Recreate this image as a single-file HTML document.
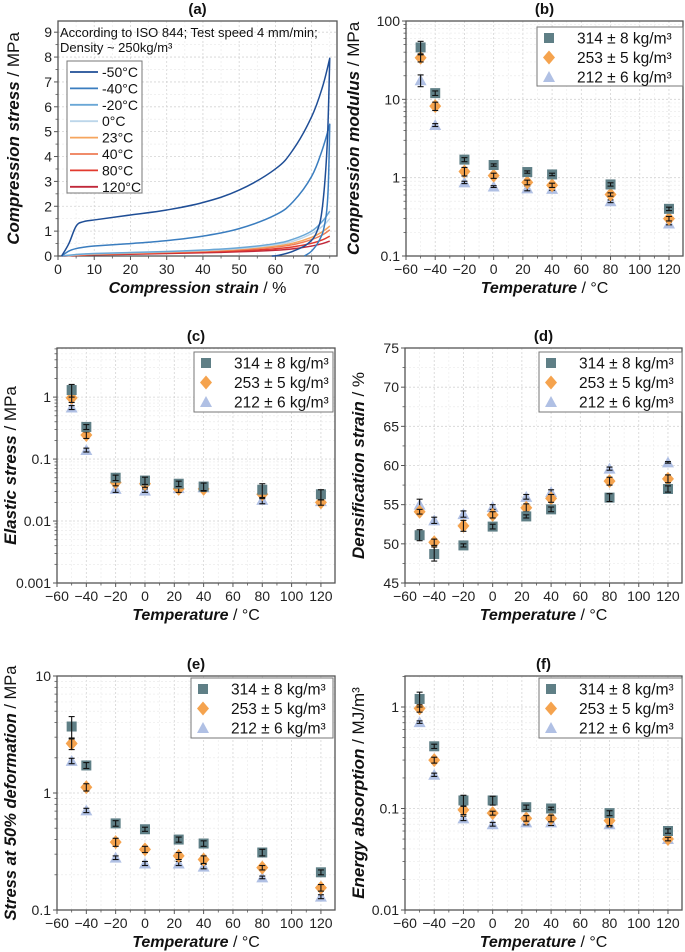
<!DOCTYPE html>
<html><head><meta charset="utf-8">
<style>
html,body{margin:0;padding:0;background:#fff;}
svg{display:block;font-family:"Liberation Sans",Arial,sans-serif;}
</style></head>
<body>
<svg id="fig" width="685" height="952" viewBox="0 0 685 952" xmlns="http://www.w3.org/2000/svg"></svg>
<script>
// ---------- DATA ----------
const temps = [-50, -40, -20, 0, 23, 40, 80, 120];
const seriesLabels = ["314 ± 8 kg/m³", "253 ± 5 kg/m³", "212 ± 6 kg/m³"];

const modulus314 = [46, 12, 1.7, 1.45, 1.18, 1.1, 0.82, 0.4];
const modulus253 = [34, 8.2, 1.2, 1.06, 0.87, 0.8, 0.61, 0.3];
const modulus212 = [17.5, 4.7, 0.87, 0.77, 0.73, 0.72, 0.5, 0.26];
const modulusErr314 = [9, 0.8, 0.1, 0.05, 0.04, 0.04, 0.04, 0.02];
const modulusErr253 = [4, 1.0, 0.15, 0.08, 0.06, 0.05, 0.03, 0.02];
const modulusErr212 = [3, 0.2, 0.03, 0.02, 0.05, 0.03, 0.02, 0.01];

const elastic314 = [1.3, 0.33, 0.05, 0.045, 0.04, 0.036, 0.032, 0.027];
const elastic253 = [0.97, 0.245, 0.042, 0.04, 0.033, 0.033, 0.027, 0.02];
const elastic212 = [0.68, 0.14, 0.033, 0.031, 0.034, 0.035, 0.022, 0.021];
const elasticErr314 = [0.3, 0.03, 0.005, 0.006, 0.004, 0.005, 0.008, 0.005];
const elasticErr253 = [0.15, 0.03, 0.005, 0.005, 0.004, 0.003, 0.004, 0.002];
const elasticErr212 = [0.05, 0.01, 0.004, 0.002, 0.003, 0.003, 0.003, 0.002];

const densif314 = [51.1, 48.7, 49.8, 52.2, 53.5, 54.4, 55.9, 57.0];
const densif253 = [54.1, 50.2, 52.3, 53.7, 54.6, 55.8, 58.0, 58.3];
const densif212 = [55.0, 53.0, 53.8, 54.7, 56.0, 56.6, 59.6, 60.4];
const densifErr314 = [0.7, 0.9, 0.2, 0.3, 0.2, 0.3, 0.5, 0.4];
const densifErr253 = [0.3, 0.4, 0.7, 0.4, 0.5, 0.5, 0.5, 0.5];
const densifErr212 = [0.7, 0.4, 0.4, 0.3, 0.3, 0.3, 0.2, 0.1];

const stress50_314 = [3.7, 1.72, 0.55, 0.49, 0.4, 0.37, 0.31, 0.21];
const stress50_253 = [2.65, 1.12, 0.38, 0.33, 0.29, 0.27, 0.23, 0.155];
const stress50_212 = [1.88, 0.71, 0.28, 0.25, 0.25, 0.235, 0.19, 0.13];
const stress50Err314 = [0.8, 0.1, 0.03, 0.02, 0.02, 0.02, 0.02, 0.01];
const stress50Err253 = [0.3, 0.08, 0.03, 0.02, 0.02, 0.02, 0.01, 0.01];
const stress50Err212 = [0.1, 0.03, 0.01, 0.01, 0.01, 0.01, 0.005, 0.005];

const energy314 = [1.2, 0.41, 0.12, 0.12, 0.103, 0.1, 0.09, 0.06];
const energy253 = [0.97, 0.3, 0.097, 0.09, 0.08, 0.08, 0.076, 0.05];
const energy212 = [0.71, 0.215, 0.08, 0.07, 0.073, 0.073, 0.07, 0.05];
const energyErr314 = [0.2, 0.02, 0.015, 0.012, 0.005, 0.003, 0.005, 0.003];
const energyErr253 = [0.08, 0.02, 0.01, 0.004, 0.005, 0.006, 0.008, 0.002];
const energyErr212 = [0.02, 0.008, 0.004, 0.003, 0.004, 0.005, 0.004, 0.002];

// Panel (a) stress-strain curves
const curveLabels = ["-50°C", "-40°C", "-20°C", "0°C", "23°C", "40°C", "80°C", "120°C"];
const curveColors = ["#1f4e96", "#3a7dbf", "#6aa7d6", "#bcd6ea", "#f6a55e", "#ee7b55", "#e23a2e", "#c0283a"];
const strainLoad = [1, 3, 5, 7, 10, 20, 30, 40, 50, 60, 65, 70, 73, 75];
const stressM50 = [0, 0.5, 1.2, 1.38, 1.45, 1.65, 1.85, 2.15, 2.65, 3.5, 4.3, 5.6, 6.8, 7.95];
const stressM40 = [0, 0.2, 0.3, 0.35, 0.4, 0.5, 0.62, 0.8, 1.1, 1.65, 2.2, 3.2, 4.3, 5.3];
const stressM20 = [0, 0.03, 0.06, 0.08, 0.1, 0.14, 0.18, 0.24, 0.33, 0.5, 0.68, 1.0, 1.4, 1.8];
const stress0 = [0, 0.02, 0.05, 0.07, 0.09, 0.13, 0.17, 0.22, 0.3, 0.45, 0.6, 0.9, 1.2, 1.5];
const stress23 = [0, 0.02, 0.04, 0.06, 0.08, 0.12, 0.16, 0.21, 0.28, 0.4, 0.52, 0.75, 0.98, 1.2];
const stress40 = [0, 0.02, 0.04, 0.05, 0.07, 0.11, 0.15, 0.19, 0.25, 0.36, 0.46, 0.66, 0.85, 1.05];
const stress80 = [0, 0.01, 0.03, 0.04, 0.06, 0.09, 0.12, 0.16, 0.21, 0.29, 0.37, 0.51, 0.65, 0.8];
const stress120 = [0, 0.01, 0.02, 0.03, 0.05, 0.07, 0.1, 0.13, 0.17, 0.23, 0.29, 0.4, 0.5, 0.6];
const strainUnloadM50 = [75, 74.3, 73, 71.5, 69, 65, 61, 59];
const stressUnloadM50 = [7.95, 4.5, 2.0, 1.0, 0.5, 0.2, 0.03, 0];
const strainUnloadM40 = [75, 74.5, 73.5, 72, 70, 68];
const stressUnloadM40 = [5.3, 2.5, 1.2, 0.6, 0.2, 0];

// ---------- HELPERS ----------
const svg = document.getElementById('fig');
const NS = 'http://www.w3.org/2000/svg';
function mk(tag, attrs, parent) {
  const e = document.createElementNS(NS, tag);
  for (const k in attrs) e.setAttribute(k, attrs[k]);
  (parent || svg).appendChild(e);
  return e;
}
function txt(x, y, s, attrs, parent) {
  const t = mk('text', Object.assign({x: x, y: y, 'font-size': 13, fill: '#222'}, attrs), parent);
  t.textContent = s;
  return t;
}
function fmtNum(v) { return v < 0 ? '−' + Math.abs(v) : String(v); }
function smoothPath(p) {
  let d = 'M' + p[0][0] + ',' + p[0][1];
  for (let i = 0; i < p.length - 1; i++) {
    const p0 = p[Math.max(i - 1, 0)], p1 = p[i], p2 = p[i + 1], p3 = p[Math.min(i + 2, p.length - 1)];
    const t = 0.18;
    const c1 = [p1[0] + (p2[0] - p0[0]) * t, p1[1] + (p2[1] - p0[1]) * t];
    const c2 = [p2[0] - (p3[0] - p1[0]) * t, p2[1] - (p3[1] - p1[1]) * t];
    d += ' C' + c1[0] + ',' + c1[1] + ' ' + c2[0] + ',' + c2[1] + ' ' + p2[0] + ',' + p2[1];
  }
  return d;
}

function makeAxes(cfg) {
  const g = mk('g', {});
  
  
  const xs = v => cfg.left + (v - cfg.xmin) / (cfg.xmax - cfg.xmin) * (cfg.right - cfg.left);
  let ys;
  if (cfg.log) {
    const a = Math.log10(cfg.ymin), b = Math.log10(cfg.ymax);
    ys = v => cfg.bottom - (Math.log10(v) - a) / (b - a) * (cfg.bottom - cfg.top);
  } else {
    ys = v => cfg.bottom - (v - cfg.ymin) / (cfg.ymax - cfg.ymin) * (cfg.bottom - cfg.top);
  }
  const grid = mk('g', {}, g);
  
  
  cfg.xMinor.forEach(v => {
    if (v > cfg.xmin && v < cfg.xmax)
      mk('line', {x1: xs(v), x2: xs(v), y1: cfg.top, y2: cfg.bottom, stroke: '#ececec', 'stroke-width': 0.7, 'stroke-dasharray': '2,2'}, grid);
  });
  cfg.xTicks.forEach(v => {
    if (v > cfg.xmin)
      mk('line', {x1: xs(v), x2: xs(v), y1: cfg.top, y2: cfg.bottom, stroke: '#d4d4d4', 'stroke-width': 0.8, 'stroke-dasharray': '2,2'}, grid);
  });
  cfg.yMinor.forEach(v => {
    mk('line', {x1: cfg.left, x2: cfg.right, y1: ys(v), y2: ys(v), stroke: '#ececec', 'stroke-width': 0.7, 'stroke-dasharray': '2,2'}, grid);
  });
  cfg.yTicks.forEach(v => {
    mk('line', {x1: cfg.left, x2: cfg.right, y1: ys(v), y2: ys(v), stroke: '#d4d4d4', 'stroke-width': 0.8, 'stroke-dasharray': '2,2'}, grid);
  });
  mk('rect', {x: cfg.left, y: cfg.top, width: cfg.right - cfg.left, height: cfg.bottom - cfg.top, fill: 'none', stroke: '#555', 'stroke-width': 1.3}, g);
  cfg.xTicks.forEach(v => {
    mk('line', {x1: xs(v), x2: xs(v), y1: cfg.bottom, y2: cfg.bottom + 4, stroke: '#555', 'stroke-width': 1}, g);
    const t = txt(xs(v), cfg.bottom + 18, fmtNum(v), {'text-anchor': 'middle', 'font-size': 14}, g);
    
    
  });
  cfg.xMinor.forEach(v => {
    if (v > cfg.xmin && v < cfg.xmax)
      mk('line', {x1: xs(v), x2: xs(v), y1: cfg.bottom, y2: cfg.bottom + 2.5, stroke: '#555', 'stroke-width': 0.8}, g);
  });
  cfg.yTicks.forEach((v, i) => {
    mk('line', {x1: cfg.left - 4, x2: cfg.left, y1: ys(v), y2: ys(v), stroke: '#555', 'stroke-width': 1}, g);
    const t = txt(cfg.left - 6, ys(v) + 5, cfg.yTickLabels[i], {'text-anchor': 'end', 'font-size': 14}, g);
    
    
  });
  cfg.yMinor.forEach(v => {
    mk('line', {x1: cfg.left - 2.5, x2: cfg.left, y1: ys(v), y2: ys(v), stroke: '#555', 'stroke-width': 0.8}, g);
  });
  const L = txt((cfg.left + cfg.right) / 2, cfg.top - 7, cfg.letter, {'text-anchor': 'middle', 'font-size': 15, 'font-weight': 'bold', fill: '#111'}, g);
  
  
  const xt = mk('text', {x: (cfg.left + cfg.right) / 2, y: cfg.bottom + 37, 'text-anchor': 'middle', 'font-size': 16, fill: '#111'}, g);
  
  
  const xb = mk('tspan', {'font-weight': 'bold', 'font-style': 'italic'}, xt); xb.textContent = cfg.xTitleBold;
  const xr = mk('tspan', {}, xt); xr.textContent = cfg.xTitleRest;
  const cy = (cfg.top + cfg.bottom) / 2;
  const yt = mk('text', {x: cfg.yTitleX, y: cy, 'text-anchor': 'middle', 'font-size': cfg.yTitleSize || 17, fill: '#111', transform: 'rotate(-90 ' + cfg.yTitleX + ' ' + cy + ')'}, g);
  
  
  const yb = mk('tspan', {'font-weight': 'bold', 'font-style': 'italic'}, yt); yb.textContent = cfg.yTitleBold;
  const yr = mk('tspan', {}, yt); yr.textContent = cfg.yTitleRest;
  return {g, xs, ys};
}

function marker(kind, x, y, parent) {
  let e;
  if (kind === 0) e = mk('rect', {x: x - 5, y: y - 5, width: 10, height: 10, fill: '#5f7f86'}, parent);
  else if (kind === 1) e = mk('polygon', {points: [x, y - 7, x + 6, y, x, y + 7, x - 6, y].join(' '), fill: '#f5a34e'}, parent);
  else e = mk('polygon', {points: [x, y - 6, x + 6, y + 5, x - 6, y + 5].join(' '), fill: '#b0c0e4'}, parent);
  return e;
}

function scatterPanel(cfg, series, errs) {
  const ax = makeAxes(cfg);
  const plot = mk('g', {}, ax.g);
  
  
  [2, 1, 0].forEach(si => {
    const vals = series[si], er = errs[si];
    vals.forEach((v, i) => {
      const x = ax.xs(temps[i]), y = ax.ys(v);
      const m = marker(si, x, y, plot);
      
      
      const y1 = ax.ys(v + er[i]), y2 = ax.ys(Math.max(v - er[i], cfg.ymin * 1.0001));
      mk('line', {x1: x, x2: x, y1: y1, y2: y2, stroke: '#111', 'stroke-width': 1.1}, plot);
      mk('line', {x1: x - 3, x2: x + 3, y1: y1, y2: y1, stroke: '#111', 'stroke-width': 1.1}, plot);
      mk('line', {x1: x - 3, x2: x + 3, y1: y2, y2: y2, stroke: '#111', 'stroke-width': 1.1}, plot);
    });
  });
  const lg = mk('g', {}, ax.g);
  
  
  const b = cfg.legend;
  mk('rect', {x: b.x, y: b.y, width: b.w, height: b.h, fill: '#fff', stroke: '#777', 'stroke-width': 1}, lg);
  seriesLabels.forEach((s, i) => {
    const cy = b.y + 11 + i * 19.5;
    const ent = mk('g', {}, lg);
    
    
    marker(i, b.x + 12, cy, ent);
    txt(b.x + 40, cy + 5.5, s, {'font-size': 15.5, fill: '#111'}, ent);
  });
}

function logMinor(a, b) {
  const out = [];
  for (let d = a; d < b; d++) for (let k = 2; k <= 9; k++) out.push(k * Math.pow(10, d));
  return out;
}
const xTicksT = [-60, -40, -20, 0, 20, 40, 60, 80, 100, 120];
const xMinorT = [-50, -30, -10, 10, 30, 50, 70, 90, 110, 130];

// ---------- PANEL A ----------
(function () {
  const cfg = {name: 'panel-a-stress-strain', left: 58, right: 337, top: 21, bottom: 256, xmin: 0, xmax: 77, ymin: 0, ymax: 9.45, log: false,
    xTicks: [0, 10, 20, 30, 40, 50, 60, 70], xMinor: [5, 15, 25, 35, 45, 55, 65, 75],
    yTicks: [0, 1, 2, 3, 4, 5, 6, 7, 8, 9], yTickLabels: ['0', '1', '2', '3', '4', '5', '6', '7', '8', '9'],
    yMinor: [0.5, 1.5, 2.5, 3.5, 4.5, 5.5, 6.5, 7.5, 8.5],
    letter: '(a)', xTitleBold: 'Compression strain', xTitleRest: ' / %', yTitleBold: 'Compression stress', yTitleRest: ' / MPa', yTitleX: 19};
  const ax = makeAxes(cfg);
  const stressSets = [stressM50, stressM40, stressM20, stress0, stress23, stress40, stress80, stress120];
  const curves = mk('g', {}, ax.g);
  
  
  for (let ci = stressSets.length - 1; ci >= 0; ci--) {
    const pts = strainLoad.map((s, i) => [ax.xs(s), ax.ys(stressSets[ci][i])]);
    let d = smoothPath(pts);
    if (ci === 0) d += ' ' + smoothPath(strainUnloadM50.map((s, i) => [ax.xs(s), ax.ys(stressUnloadM50[i])])).replace(/^M[^ ]+/, '');
    if (ci === 1) d += ' ' + smoothPath(strainUnloadM40.map((s, i) => [ax.xs(s), ax.ys(stressUnloadM40[i])])).replace(/^M[^ ]+/, '');
    const p = mk('path', {d: d, fill: 'none', stroke: curveColors[ci], 'stroke-width': 1.5, 'stroke-linejoin': 'round'}, curves);
    
    
  }
  const note = mk('g', {}, ax.g);
  
  
  txt(60, 37, 'According to ISO 844; Test speed 4 mm/min;', {'font-size': 13, fill: '#111'}, note);
  txt(60, 52, 'Density ~ 250kg/m³', {'font-size': 13, fill: '#111'}, note);
  const lg = mk('g', {}, ax.g);
  
  
  mk('rect', {x: 67, y: 61, width: 75, height: 132, fill: '#fff', stroke: '#777', 'stroke-width': 1}, lg);
  curveLabels.forEach((s, i) => {
    const cy = 72 + i * 16.4;
    const ent = mk('g', {}, lg);
    
    
    mk('line', {x1: 70, x2: 98, y1: cy, y2: cy, stroke: curveColors[i], 'stroke-width': 1.8}, ent);
    txt(102, cy + 5, s, {'font-size': 14, fill: '#111'}, ent);
  });
})();

// ---------- PANEL B ----------
scatterPanel({name: 'panel-b-modulus', left: 406, right: 683, top: 21, bottom: 256, xmin: -60, xmax: 129.6, ymin: 0.1, ymax: 100, log: true,
  xTicks: xTicksT, xMinor: xMinorT, yTicks: [0.1, 1, 10, 100], yTickLabels: ['0.1', '1', '10', '100'], yMinor: logMinor(-1, 2),
  letter: '(b)', xTitleBold: 'Temperature', xTitleRest: ' / °C', yTitleBold: 'Compression modulus', yTitleRest: ' / MPa', yTitleX: 359,
  legend: {x: 537, y: 27, w: 146, h: 59}},
  [modulus314, modulus253, modulus212], [modulusErr314, modulusErr253, modulusErr212]);

// ---------- PANEL C ----------
scatterPanel({name: 'panel-c-elastic-stress', left: 57, right: 335, top: 348, bottom: 583, xmin: -60, xmax: 129.6, ymin: 0.001, ymax: 6.2, log: true,
  xTicks: xTicksT, xMinor: xMinorT, yTicks: [0.001, 0.01, 0.1, 1], yTickLabels: ['0.001', '0.01', '0.1', '1'], yMinor: logMinor(-3, 1).filter(v => v < 6.2),
  letter: '(c)', xTitleBold: 'Temperature', xTitleRest: ' / °C', yTitleBold: 'Elastic stress', yTitleRest: ' / MPa', yTitleX: 16,
  legend: {x: 194, y: 352, w: 139, h: 60}},
  [elastic314, elastic253, elastic212], [elasticErr314, elasticErr253, elasticErr212]);

// ---------- PANEL D ----------
scatterPanel({name: 'panel-d-densification', left: 405, right: 682, top: 348, bottom: 583, xmin: -60, xmax: 129.6, ymin: 45, ymax: 75, log: false,
  xTicks: xTicksT, xMinor: xMinorT, yTicks: [45, 50, 55, 60, 65, 70, 75], yTickLabels: ['45', '50', '55', '60', '65', '70', '75'],
  yMinor: [47.5, 52.5, 57.5, 62.5, 67.5, 72.5],
  letter: '(d)', xTitleBold: 'Temperature', xTitleRest: ' / °C', yTitleBold: 'Densification strain', yTitleRest: ' / %', yTitleX: 364,
  legend: {x: 539, y: 352, w: 143, h: 60}},
  [densif314, densif253, densif212], [densifErr314, densifErr253, densifErr212]);

// ---------- PANEL E ----------
scatterPanel({name: 'panel-e-stress-50', left: 57, right: 335, top: 676, bottom: 910, xmin: -60, xmax: 129.6, ymin: 0.1, ymax: 10, log: true,
  xTicks: xTicksT, xMinor: xMinorT, yTicks: [0.1, 1, 10], yTickLabels: ['0.1', '1', '10'], yMinor: logMinor(-1, 1),
  letter: '(e)', xTitleBold: 'Temperature', xTitleRest: ' / °C', yTitleBold: 'Stress at 50% deformation', yTitleRest: ' / MPa', yTitleX: 16, yTitleSize: 16.5,
  legend: {x: 191, y: 678, w: 142, h: 60}},
  [stress50_314, stress50_253, stress50_212], [stress50Err314, stress50Err253, stress50Err212]);

// ---------- PANEL F ----------
scatterPanel({name: 'panel-f-energy', left: 405, right: 682, top: 676, bottom: 910, xmin: -60, xmax: 129.6, ymin: 0.01, ymax: 2.02, log: true,
  xTicks: xTicksT, xMinor: xMinorT, yTicks: [0.01, 0.1, 1], yTickLabels: ['0.01', '0.1', '1'], yMinor: logMinor(-2, 1).filter(v => v < 2.02),
  letter: '(f)', xTitleBold: 'Temperature', xTitleRest: ' / °C', yTitleBold: 'Energy absorption', yTitleRest: ' / MJ/m³', yTitleX: 364,
  legend: {x: 539, y: 678, w: 143, h: 60}},
  [energy314, energy253, energy212], [energyErr314, energyErr253, energyErr212]);
</script>
</body></html>
